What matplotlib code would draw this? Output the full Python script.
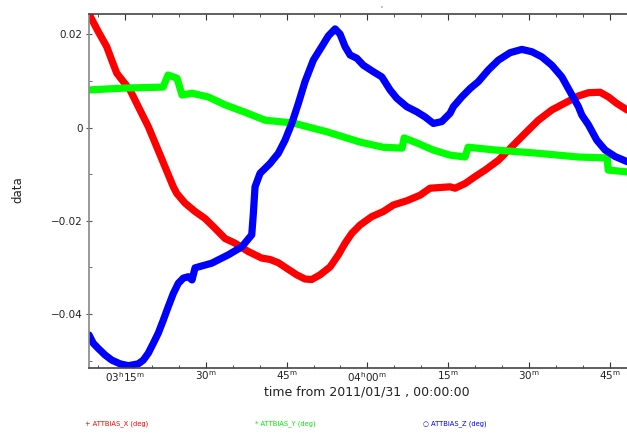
import matplotlib
matplotlib.use('Agg')
import matplotlib.pyplot as plt
from matplotlib.ticker import MultipleLocator

# minutes after 03:00 on 2011/01/31, values in deg
x_t = [8.38, 10.10, 11.66, 12.59, 13.52, 14.74, 15.98, 17.52, 19.38, 20.93, 22.47,
       24.01, 24.64, 26.18, 28.04, 29.89, 31.74, 33.60, 35.45, 37.92, 40.40, 41.94,
       43.48, 45.04, 46.89, 48.43, 49.68, 51.21, 53.07, 54.61, 55.85, 57.09, 58.63,
       60.80, 62.95, 64.81, 67.29, 69.76, 71.61, 75.32, 76.25, 78.10, 79.96, 81.81,
       84.28, 86.76, 89.23, 91.69, 94.18, 96.64, 99.11, 100.97, 103.13, 104.67,
       106.23, 108.14]
x_v = [0.0244, 0.0206, 0.0174, 0.0145, 0.0117, 0.0099, 0.0081, 0.0045, 0.0002,
       -0.0041, -0.0084, -0.0127, -0.0141, -0.0162, -0.0180, -0.0195, -0.0216,
       -0.0238, -0.0248, -0.0266, -0.0280, -0.0283, -0.0290, -0.0302, -0.0316,
       -0.0325, -0.0326, -0.0316, -0.0299, -0.0273, -0.0248, -0.0227, -0.0209,
       -0.0191, -0.0180, -0.0166, -0.0157, -0.0145, -0.0130, -0.0127, -0.0130,
       -0.0120, -0.0105, -0.0091, -0.0070, -0.0041, -0.0012, 0.0016, 0.0038, 0.0053,
       0.0068, 0.0075, 0.0076, 0.0066, 0.0052, 0.0038]

y_t = [8.38, 15.06, 22.10, 23.03, 24.70, 25.63, 27.48, 30.45, 33.60, 37.31, 41.02,
       46.21, 52.51, 58.63, 62.90, 66.42, 66.79, 69.20, 72.17, 75.32, 78.10, 78.66,
       83.66, 91.64, 99.05, 104.43, 104.62, 108.14]
y_v = [0.0081, 0.0085, 0.0087, 0.0113, 0.0106, 0.0070, 0.0074, 0.0066, 0.0049,
       0.0033, 0.0016, 0.0010, -0.0009, -0.0031, -0.0042, -0.0044, -0.0022, -0.0033,
       -0.0048, -0.0059, -0.0063, -0.0042, -0.0048, -0.0055, -0.0063, -0.0065,
       -0.0091, -0.0095]

z_t = [8.38, 9.18, 10.10, 11.35, 12.59, 14.13, 15.67, 17.52, 18.45, 19.38, 20.30,
       21.23, 22.16, 23.08, 24.01, 24.94, 25.87, 26.79, 27.48, 28.04, 31.13, 34.21,
       36.70, 38.55, 38.85, 39.16, 40.09, 41.94, 43.48, 44.72, 45.97, 47.19, 48.43,
       49.97, 51.53, 52.75, 54.00, 54.92, 55.85, 56.78, 58.02, 59.24, 61.10, 62.66,
       64.19, 65.44, 67.29, 69.15, 70.68, 72.22, 73.78, 75.32, 75.93, 77.49, 79.03,
       80.57, 82.42, 84.28, 86.45, 88.62, 90.47, 92.32, 94.18, 96.03, 97.57, 99.11,
       99.74, 100.97, 102.52, 104.06, 105.92, 108.14]
z_v = [-0.0445, -0.0463, -0.0474, -0.0488, -0.0499, -0.0507, -0.0511, -0.0507,
       -0.0499, -0.0484, -0.0463, -0.0441, -0.0413, -0.0384, -0.0356, -0.0334,
       -0.0323, -0.0320, -0.0327, -0.0301, -0.0291, -0.0273, -0.0256, -0.0230,
       -0.0184, -0.0127, -0.0098, -0.0077, -0.0055, -0.0027, 0.0009, 0.0052, 0.0099,
       0.0145, 0.0174, 0.0197, 0.0212, 0.0201, 0.0174, 0.0156, 0.0149, 0.0134,
       0.0120, 0.0109, 0.0081, 0.0063, 0.0045, 0.0034, 0.0023, 0.0009, 0.0013,
       0.0031, 0.0045, 0.0066, 0.0084, 0.0099, 0.0124, 0.0145, 0.0161, 0.0168,
       0.0163, 0.0152, 0.0134, 0.0109, 0.0077, 0.0045, 0.0027, 0.0006, -0.0027,
       -0.0048, -0.0062, -0.0073]

xticks = [15, 30, 45, 60, 75, 90, 105]
xticklabels = [r'03$^{\rm h}$15$^{\rm m}$', r'30$^{\rm m}$', r'45$^{\rm m}$',
               r'04$^{\rm h}$00$^{\rm m}$', r'15$^{\rm m}$', r'30$^{\rm m}$', r'45$^{\rm m}$']
yticks = [0.02, 0, -0.02, -0.04]
yticklabels = ['0.02', '0', '\u22120.02', '\u22120.04']
series = ['ATTBIAS_X (deg)', 'ATTBIAS_Y (deg)', 'ATTBIAS_Z (deg)']

plt.rcParams['mathtext.default'] = 'regular'
fig = plt.figure(figsize=(6.27, 4.34), dpi=100)
ax = fig.add_axes([89/627, 1-368/434, 539/627, (368-14)/434])

kw = dict(lw=5.2, solid_capstyle='round', solid_joinstyle='round')
ax.plot(x_t, x_v, color='#ff0000', **kw)
ax.plot(y_t, y_v, color='#00ff00', **kw)
ax.plot(z_t, z_v, color='#0000ff', **kw)

ax.set_xlim(8.38, 108.3)
ax.set_ylim(-0.0516, 0.0244)
ax.set_xticks(xticks)
ax.set_xticklabels(xticklabels, fontsize=7.5, color='#222222')
ax.xaxis.set_minor_locator(MultipleLocator(5))
ax.set_yticks(yticks)
ax.set_yticklabels(yticklabels, fontsize=7.5, color='#222222')
ax.yaxis.set_minor_locator(MultipleLocator(0.01))
ax.tick_params(axis='x', which='both', direction='in', top=True, bottom=True, pad=1.5)
ax.tick_params(axis='x', which='major', length=4, color='#333333')
ax.tick_params(axis='x', which='minor', length=2.5, color='#333333')
ax.tick_params(axis='y', which='major', direction='inout', length=5, color='#555555', pad=2)
ax.tick_params(axis='y', which='minor', direction='in', length=2.5, color='#555555')
ax.spines['right'].set_visible(False)
ax.spines['left'].set_color('#888888')
ax.spines['top'].set_color('#444444')
ax.spines['bottom'].set_color('#444444')
for s in ax.spines.values():
    s.set_linewidth(1.2)

fig.text(367/627, 1-392/434, 'time from 2011/01/31 , 00:00:00', fontsize=9,
         ha='center', va='center', color='#222222')
fig.text(18/627, 1-190/434, 'data', fontsize=8.5, rotation=90,
         ha='center', va='center', color='#222222')
fig.text(381/627, 1-8/434, "'", fontsize=5, ha='center', va='center', color='#444444')

fig.text(85/627, 1-424/434, '+ ' + series[0], fontsize=4.9, color='#ff0000', va='center')
fig.text(255/627, 1-424/434, '* ' + series[1], fontsize=4.9, color='#00ee00', va='center')
fig.text(423/627, 1-424/434, '\u25cb ' + series[2], fontsize=4.9, color='#0000ff', va='center')

fig.savefig('out.png', dpi=100)
